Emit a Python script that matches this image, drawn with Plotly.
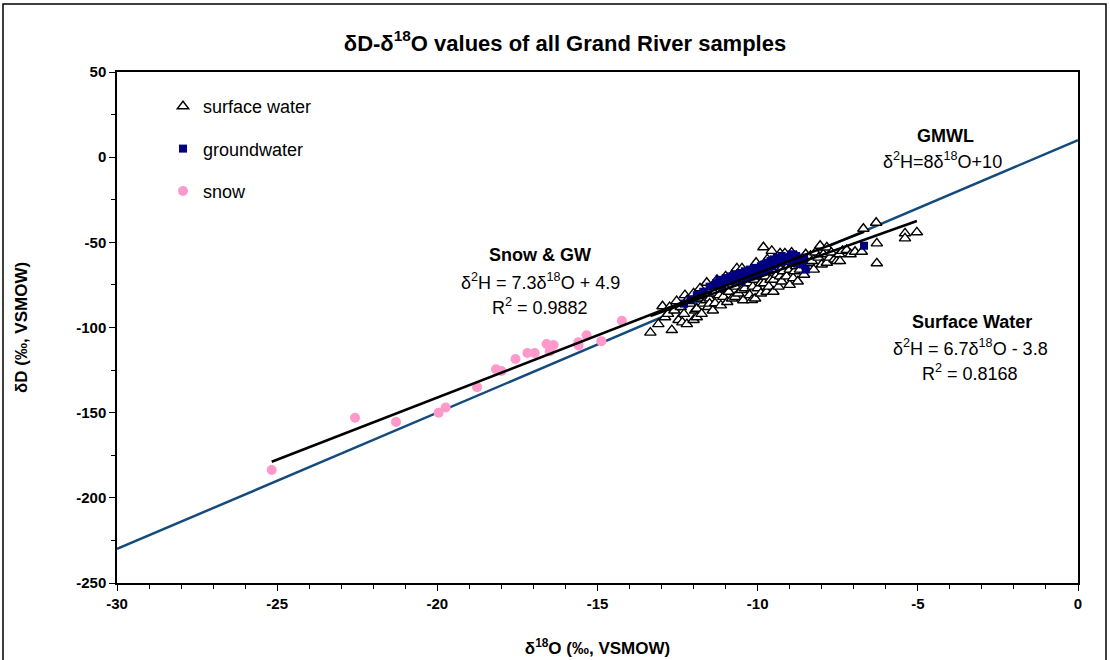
import numpy as np
import plotly.graph_objects as go

# ---------------- data ----------------
sw_x = [-13.35, -13.10, -12.97, -12.89, -12.80, -12.75, -12.68, -12.60, -12.53, -12.47,
        -12.40, -12.35, -12.30, -12.27, -12.21, -12.20, -12.10, -12.00, -12.00, -11.95,
        -11.90, -11.90, -11.85, -11.80, -11.75, -11.70, -11.65, -11.60, -11.59, -11.55,
        -11.50, -11.50, -11.45, -11.40, -11.35, -11.33, -11.30, -11.27, -11.20, -11.15,
        -11.10, -11.07, -11.00, -11.00, -10.95, -10.90, -10.90, -10.85, -10.80, -10.75,
        -10.70, -10.70, -10.65, -10.60, -10.60, -10.55, -10.50, -10.49, -10.45, -10.40,
        -10.35, -10.30, -10.30, -10.25, -10.20, -10.18, -10.15, -10.10, -10.08, -10.05,
        -10.00, -10.00, -9.95, -9.90, -9.90, -9.85, -9.82, -9.80, -9.75, -9.72,
        -9.70, -9.70, -9.65, -9.60, -9.60, -9.56, -9.51, -9.50, -9.45, -9.40,
        -9.40, -9.35, -9.30, -9.30, -9.28, -9.25, -9.20, -9.20, -9.15, -9.10,
        -9.10, -9.05, -9.00, -9.00, -8.94, -8.90, -8.90, -8.89, -8.85, -8.80,
        -8.80, -8.75, -8.70, -8.68, -8.60, -8.60, -8.55, -8.50, -8.45, -8.40,
        -8.40, -8.35, -8.31, -8.25, -8.20, -8.10, -8.05, -8.00, -7.95, -7.84,
        -7.84, -7.75, -7.70, -7.60, -7.53, -7.45, -7.43, -7.35, -7.22, -7.10,
        -6.96, -6.75, -6.70, -6.30, -6.28, -6.28, -5.40, -5.40, -5.03]
sw_y = [-103, -98, -87.5, -94, -92, -88, -101.5, -90, -84.5, -95.6,
        -88, -97, -92, -81, -98, -84, -86, -95.6, -80, -90,
        -89, -94, -83, -77, -92, -86, -80, -84, -73.7, -88,
        -83, -86, -78, -90, -80, -85.8, -75, -72, -81, -87,
        -76, -82, -77, -70, -85, -79, -72, -73, -83, -68,
        -76, -82, -65.3, -80, -73, -71, -78, -65.3, -84, -77,
        -69, -74, -70, -81, -66, -83.9, -76, -72, -83, -62,
        -77, -70, -68, -80, -74, -64, -52.9, -74, -70, -79,
        -60, -67, -76, -66, -72, -55, -79, -72, -63, -69,
        -66, -76, -56.5, -70, -66, -73, -60, -67, -56.5, -70,
        -61, -64, -75, -66, -56, -62, -59, -71, -67, -58,
        -64, -73, -63, -66, -60, -63, -69, -57, -64, -62,
        -59, -58, -61, -66, -56, -59, -52, -63, -57, -53,
        -62, -59, -56, -60, -61, -57, -61, -55, -54.5, -57,
        -55.5, -55.5, -42, -38.5, -50.6, -62.3, -44.7, -47.7, -44.1]

gw_x = [-12.30, -12.10, -11.90, -11.70, -11.50, -11.30, -11.20, -11.10, -11.00, -10.90,
        -10.85, -10.75, -10.70, -10.60, -10.55, -10.50, -10.45, -10.40, -10.35, -10.30,
        -10.25, -10.20, -10.15, -10.10, -10.05, -10.00, -9.95, -9.90, -9.85, -9.80,
        -9.75, -9.70, -9.65, -9.60, -9.55, -9.50, -9.45, -9.40, -9.35, -9.30,
        -9.25, -9.20, -9.10, -9.00, -8.95, -8.90, -8.80, -8.70, -8.60, -8.50,
        -8.55, -6.68]
gw_y = [-86, -84, -81, -79, -76, -74, -72, -75, -71, -73,
        -70, -72, -69, -71, -68, -73, -70, -67, -71, -68,
        -66, -70, -67, -65, -69, -66, -68, -64, -67, -63,
        -66, -62, -65, -61, -64, -60, -63, -59, -62, -60,
        -58, -61, -59, -60, -57, -62, -58, -60, -63, -66,
        -59, -52]

snow_x = [-25.17, -22.57, -21.29, -19.96, -19.74, -18.76, -18.17, -18.00, -17.56, -17.19,
          -16.96, -16.59, -16.37, -16.49, -15.60, -15.59, -15.34, -14.88, -14.24]
snow_y = [-183.7, -153, -155.5, -150, -147, -135, -124.5, -125.5, -118.5, -115,
          -115, -109.7, -110.3, -114, -108.7, -110.5, -104.6, -108, -96]

# regression / meteoric water line coefficients (slope, intercept)
gmwl_coef = (8.0, 10.0)
snowgw_coef = (7.3, 4.9)
sw_coef = (6.7, -3.8)

x_range = [-30, 0]
y_range = [-250, 50]
x_ticks = [-30, -25, -20, -15, -10, -5, 0]
y_ticks = [50, 0, -50, -100, -150, -200, -250]

FONT = "Liberation Sans, Arial, sans-serif"

def line_pts(coef, xmin, xmax):
    xs = np.array([xmin, xmax], dtype=float)
    return xs, coef[0] * xs + coef[1]

fig = go.Figure()

gx, gy = line_pts(gmwl_coef, x_range[0], x_range[1])
fig.add_trace(go.Scatter(x=gx, y=gy, mode="lines", showlegend=False,
                         line=dict(color="#134B7C", width=2.5), hoverinfo="skip"))

fig.add_trace(go.Scatter(x=sw_x, y=sw_y, mode="markers", name="surface water",
                         legendgroup="a",
                         marker=dict(symbol="triangle-up", size=10, color="white",
                                     line=dict(color="black", width=1.4))))
fig.add_trace(go.Scatter(x=gw_x, y=gw_y, mode="markers", name="groundwater",
                         legendgroup="b",
                         marker=dict(symbol="square", size=8, color="#000080",
                                     line=dict(width=0))))
fig.add_trace(go.Scatter(x=snow_x, y=snow_y, mode="markers", name="snow",
                         legendgroup="c",
                         marker=dict(symbol="circle", size=10, color="#FF99CC",
                                     line=dict(width=0))))

sx, sy = line_pts(snowgw_coef, min(snow_x), max(gw_x))
fig.add_trace(go.Scatter(x=sx, y=sy, mode="lines", showlegend=False,
                         line=dict(color="black", width=2.5), hoverinfo="skip"))
wx, wy = line_pts(sw_coef, min(sw_x), max(sw_x))
fig.add_trace(go.Scatter(x=wx, y=wy, mode="lines", showlegend=False,
                         line=dict(color="black", width=2.5), hoverinfo="skip"))

ann_font = dict(family=FONT, size=18, color="black")
annotations = [
    ("<b>Snow &amp; GW</b>", -16.79, -57.5),
    ("δ<sup>2</sup>H = 7.3δ<sup>18</sup>O + 4.9", -16.79, -72.7),
    ("R<sup>2</sup> = 0.9882", -16.79, -87.4),
    ("<b>GMWL</b>", -4.15, 12.4),
    ("δ<sup>2</sup>H=8δ<sup>18</sup>O+10", -4.24, -1.7),
    ("<b>Surface Water</b>", -3.31, -96.8),
    ("δ<sup>2</sup>H = 6.7δ<sup>18</sup>O - 3.8", -3.37, -111.5),
    ("R<sup>2</sup> = 0.8168", -3.37, -126.2),
]
for txt, ax_, ay_ in annotations:
    fig.add_annotation(x=ax_, y=ay_, text=txt, showarrow=False, font=ann_font,
                       xanchor="center", yanchor="middle")

# outer chart border
L, R, T, B = 117, 32, 72, 77
W, H = 1110, 660
pw, ph = W - L - R, H - T - B
fig.add_shape(type="rect", xref="paper", yref="paper",
              x0=(3 - L) / pw, x1=(1106 - L) / pw,
              y0=-(663 - (T + ph)) / ph, y1=1 + (T - 4) / ph,
              line=dict(color="black", width=1.5), fillcolor="rgba(0,0,0,0)",
              layer="below")

axis_common = dict(showline=True, linecolor="black", linewidth=1.5, mirror=True,
                   showgrid=False, zeroline=False, ticks="outside", ticklen=6,
                   tickwidth=1.2, tickcolor="black", automargin=False,
                   tickfont=dict(family=FONT, size=15, color="black"))

fig.update_layout(
    width=W, height=H,
    margin=dict(l=L, r=R, t=T, b=B),
    paper_bgcolor="white", plot_bgcolor="white",
    title=dict(text="<b>δD-δ<sup>18</sup>O values of all Grand River samples</b>",
               x=565 / W, xref="container", xanchor="center",
               y=1 - 43 / H, yref="container", yanchor="middle",
               font=dict(family=FONT, size=22, color="black")),
    xaxis=dict(range=x_range, tickvals=x_ticks,
               ticktext=["<b>%d</b>" % v for v in x_ticks],
               minor=dict(dtick=1, ticks="outside", ticklen=4, tickcolor="black"),
               title=dict(text="<b>δ<sup>18</sup>O (‰, VSMOW)</b>", standoff=31,
                          font=dict(family=FONT, size=17, color="black")),
               **axis_common),
    yaxis=dict(range=y_range, tickvals=y_ticks,
               ticktext=["<b>%d</b>" % v for v in y_ticks],
               minor=dict(dtick=25, ticks="outside", ticklen=4, tickcolor="black"),
               title=dict(text="<b>δD (‰, VSMOW)</b>", standoff=44,
                          font=dict(family=FONT, size=17, color="black")),
               **axis_common),
    legend=dict(x=(163 - L) / pw, y=1 - (88 - T) / ph, xanchor="left", yanchor="top",
                bgcolor="rgba(0,0,0,0)", borderwidth=0, tracegroupgap=16,
                font=dict(family=FONT, size=18, color="black")),
    showlegend=True,
)

fig.write_html("out.html", config={"displayModeBar": False},
               post_script="document.body.style.margin='0';document.body.style.overflow='hidden';")
